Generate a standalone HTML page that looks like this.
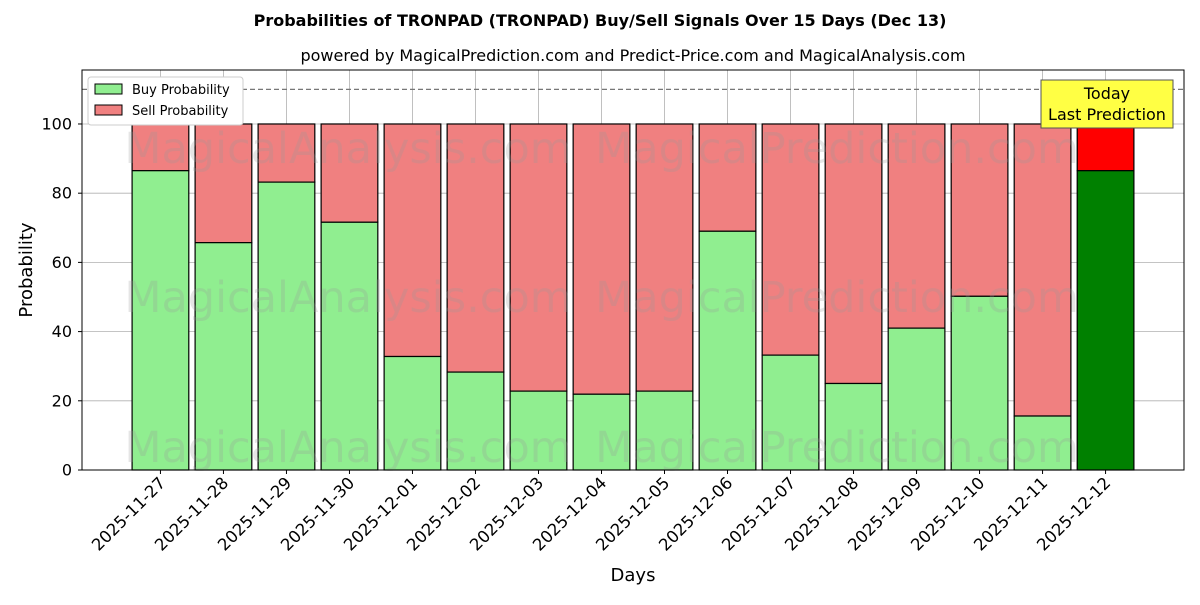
<!DOCTYPE html>
<html><head><meta charset="utf-8"><style>
body{margin:0;background:#fff;font-family:"Liberation Sans","DejaVu Sans",sans-serif}
svg text{font-family:"DejaVu Sans","Liberation Sans",sans-serif}
</style></head><body>
<svg id="chart" width="1200" height="600" xmlns="http://www.w3.org/2000/svg">
<rect width="1200" height="600" fill="#fff"/>
<text x="600" y="26" text-anchor="middle" font-size="16" font-weight="bold">Probabilities of TRONPAD (TRONPAD) Buy/Sell Signals Over 15 Days (Dec 13)</text>
<text x="633" y="61" text-anchor="middle" font-size="16">powered by MagicalPrediction.com and Predict-Price.com and MagicalAnalysis.com</text>
<g id="grid"></g>
<g id="bars"></g>
<g id="wm" font-size="43" fill="#999" opacity="0.25">
<text x="348" y="163" text-anchor="middle">MagicalAnalysis.com</text>
<text x="837" y="163" text-anchor="middle">MagicalPrediction.com</text>
<text x="348" y="312" text-anchor="middle">MagicalAnalysis.com</text>
<text x="837" y="312" text-anchor="middle">MagicalPrediction.com</text>
<text x="348" y="462" text-anchor="middle">MagicalAnalysis.com</text>
<text x="837" y="462" text-anchor="middle">MagicalPrediction.com</text>
</g>
<line x1="82" x2="1184" y1="89.4" y2="89.4" stroke="#777" stroke-dasharray="5,3" stroke-width="1.2"/>
<g id="axes"></g>
<rect x="82" y="70" width="1102" height="400" fill="none" stroke="#000" stroke-width="1"/>
<g>
<rect x="1041" y="80" width="132" height="48" fill="#ffff44" stroke="#555"/>
<text x="1107" y="99" text-anchor="middle" font-size="16">Today</text>
<text x="1107" y="120" text-anchor="middle" font-size="16">Last Prediction</text>
</g>
<g>
<rect x="88" y="77" width="155" height="48" fill="#fff" stroke="#ccc" rx="3"/>
<rect x="95" y="84" width="27" height="10" fill="#90ee90" stroke="#000"/>
<text x="132" y="94" font-size="13">Buy Probability</text>
<rect x="95" y="105" width="27" height="10" fill="#f08080" stroke="#000"/>
<text x="132" y="115" font-size="13">Sell Probability</text>
</g>
<text x="633" y="581" text-anchor="middle" font-size="18">Days</text>
<text transform="translate(32,270) rotate(-90)" text-anchor="middle" font-size="18">Probability</text>
</svg>
<script>
const categories=["2025-11-27","2025-11-28","2025-11-29","2025-11-30","2025-12-01","2025-12-02","2025-12-03","2025-12-04","2025-12-05","2025-12-06","2025-12-07","2025-12-08","2025-12-09","2025-12-10","2025-12-11","2025-12-12"];
const buyValues=[86.5,65.7,83.2,71.6,32.8,28.3,22.8,21.9,22.8,69,33.2,25,41,50.2,15.6,86.5];
const yTicks=[0,20,40,60,80,100];
const NS="http://www.w3.org/2000/svg";
const X0=82,X1=1184,Y0=470,Y1=70,xmin=-1.245,xmax=16.245,ymax=115.6;
const xs=i=>X0+(i-xmin)/(xmax-xmin)*(X1-X0);
const ys=v=>Y0-v/ymax*(Y0-Y1);
const bw=0.9*(X1-X0)/(xmax-xmin);
function mk(t,a,p){const e=document.createElementNS(NS,t);for(const k in a)e.setAttribute(k,a[k]);p.appendChild(e);return e;}
const grid=document.getElementById('grid'),bars=document.getElementById('bars'),axes=document.getElementById('axes');
yTicks.forEach(v=>{
 const g=mk('line',{x1:X0,x2:X1,y1:ys(v),y2:ys(v),stroke:'#b0b0b0','stroke-width':0.8},grid);
 
 
 mk('line',{x1:X0-4,x2:X0,y1:ys(v),y2:ys(v),stroke:'#000'},axes);
 const t=mk('text',{x:X0-10,y:ys(v)+5.5,'text-anchor':'end','font-size':16},axes);t.textContent=v;
 
 
});
categories.forEach((c,i)=>{
 const x=xs(i);
 const g=mk('line',{x1:x,x2:x,y1:Y1,y2:Y0,stroke:'#b0b0b0','stroke-width':0.8},grid);
 
 
 const last=i===categories.length-1;
 const b=buyValues[i];
 const s=mk('rect',{x:x-bw/2,y:ys(100),width:bw,height:ys(b)-ys(100),fill:last?'#ff0000':'#f08080',stroke:'#000','stroke-width':1.2},bars);
 
 
 const r=mk('rect',{x:x-bw/2,y:ys(b),width:bw,height:ys(0)-ys(b),fill:last?'#008000':'#90ee90',stroke:'#000','stroke-width':1.2},bars);
 
 
 mk('line',{x1:x,x2:x,y1:Y0,y2:Y0+4,stroke:'#000'},axes);
 const tx=x+6,ty=Y0+14;
 const t=mk('text',{x:tx,y:ty,'text-anchor':'end','font-size':16.5,transform:`rotate(-45 ${tx} ${ty})`},axes);t.textContent=c;
 
 
});
</script>
</body></html>
